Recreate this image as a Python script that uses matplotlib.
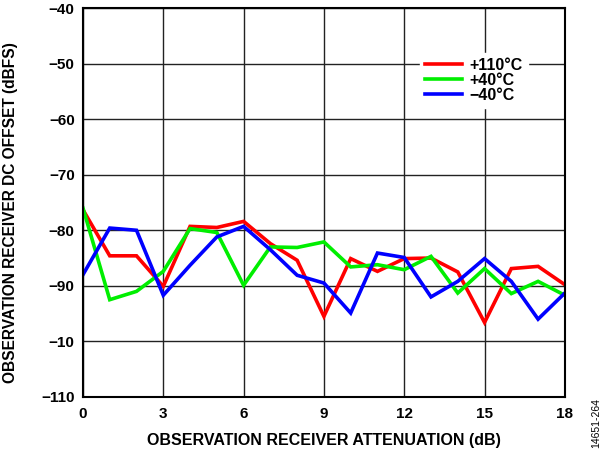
import matplotlib
matplotlib.use("Agg")
import matplotlib.pyplot as plt

plt.rcParams['font.family'] = ['Liberation Sans', 'DejaVu Sans']
plt.rcParams['font.weight'] = 'bold'

attenuation = list(range(19))
red_110 = [-76.3, -84.6, -84.6, -90.1, -79.3, -79.5, -78.4, -82.4, -85.4, -95.5,
           -85.1, -87.4, -85.1, -85.0, -87.5, -96.6, -86.9, -86.5, -89.8]
green_40 = [-76.0, -92.5, -91.0, -87.4, -79.7, -80.4, -89.9, -83.0, -83.1, -82.1,
            -86.6, -86.2, -87.1, -84.7, -91.3, -86.9, -91.4, -89.2, -91.7]
blue_m40 = [-88.0, -79.6, -80.0, -91.7, -86.3, -81.2, -79.3, -83.5, -88.1, -89.5,
            -94.9, -84.1, -84.9, -92.0, -89.2, -85.1, -89.2, -96.0, -91.3]
series_labels = ['+110°C', '+40°C', '\u221240°C']
x_ticks = [0, 3, 6, 9, 12, 15, 18]
y_ticks = [-40, -50, -60, -70, -80, -90, -100, -110]
y_tick_labels = ['\u221240', '\u221250', '\u221260', '\u221270', '\u221280', '\u221290', '\u221210', '\u2212110']

fig = plt.figure(figsize=(6.1, 4.5), dpi=100)
ax = fig.add_axes([0.136, 0.118, 0.790, 0.864])

for vals, col, lab in zip([red_110, green_40, blue_m40], ['#ff0000', '#00ee00', '#0000ff'], series_labels):
    ax.plot(attenuation, vals, color=col, lw=2.6, label=lab, solid_joinstyle='miter')

ax.set_xlim(0, 18)
ax.set_ylim(-110, -40)
ax.set_xticks(x_ticks)
ax.set_yticks(y_ticks)
ax.set_yticklabels(y_tick_labels)
ax.grid(True, color='#222222', lw=1.0)
ax.set_axisbelow(True)
ax.tick_params(axis='x', length=0, labelsize=11, pad=7)
ax.tick_params(axis='y', length=0, labelsize=11, pad=6)
for lbl in ax.get_xticklabels() + ax.get_yticklabels():
    lbl.set_fontweight('bold')
for s in ax.spines.values():
    s.set_linewidth(1.5)
    s.set_color('black')

ax.set_xlabel('OBSERVATION RECEIVER ATTENUATION (dB)', fontsize=11.5, fontweight='bold', labelpad=9)
ax.set_ylabel('OBSERVATION RECEIVER DC OFFSET (dBFS)', fontsize=11.2, fontweight='bold', labelpad=9)
ax.yaxis.set_label_coords(-0.135, 0.475)

leg = ax.legend(loc='upper left', bbox_to_anchor=(0.70, 0.884), frameon=True, fontsize=11.5,
                handlelength=2.3, handletextpad=0.5, labelspacing=0.0, borderpad=0.3,
                borderaxespad=0.0, fancybox=False)
leg.get_frame().set_edgecolor('white')
leg.get_frame().set_facecolor('white')
leg.get_frame().set_alpha(1.0)
for t in leg.get_texts():
    t.set_fontweight('bold')

fig.text(0.977, 0.005, '14651-264', rotation=90, fontsize=7.5, ha='center', va='bottom', fontweight='normal')

fig.savefig('out.png', dpi=100)
